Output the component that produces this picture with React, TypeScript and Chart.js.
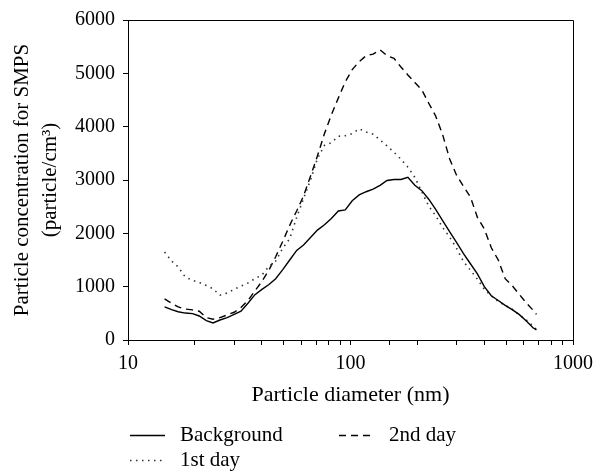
import { useEffect, useRef } from "react";
import { Chart, registerables } from "chart.js";

Chart.register(...registerables);

const FONT = "'Liberation Serif', 'DejaVu Serif', serif";

// Particle diameter (nm)
const diameters = [
  14.6, 15.7, 16.8, 18.1, 19.5, 20.9, 22.5, 24.1, 25.9, 27.9, 30.0, 32.2, 34.6, 37.2,
  40.0, 43.0, 46.1, 49.6, 53.3, 57.3, 61.5, 66.1, 71.0, 76.4, 82.0, 88.2, 94.7, 101.8,
  109.4, 117.6, 126.3, 135.8, 145.9, 156.8, 168.5, 181.1, 194.6, 209.1, 224.7, 241.4,
  259.5, 278.8, 299.6, 322.0, 346.0, 371.8, 399.5, 429.4, 461.4, 495.8, 532.8, 572.5,
  615.3, 661.2, 685.0,
];

// Particle concentration (particle/cm3)
const background = [
  620, 570, 530, 505, 495, 450, 365, 320, 375, 420, 480, 540, 690, 850, 950, 1040, 1150,
  1320, 1500, 1680, 1780, 1920, 2060, 2160, 2280, 2420, 2440, 2610, 2720, 2780, 2830, 2900,
  2990, 3010, 3010, 3050, 2900, 2800, 2640, 2450, 2240, 2030, 1830, 1620, 1430, 1240, 1000,
  830, 740, 650, 570, 480, 360, 230, 190,
];

const firstDay = [
  1650, 1480, 1370, 1180, 1120, 1080, 1020, 960, 840, 880, 950, 1010, 1070, 1150, 1220, 1380,
  1480, 1720, 1900, 2300, 2650, 3000, 3400, 3650, 3700, 3820, 3830, 3870, 3960, 3900, 3860,
  3750, 3640, 3520, 3390, 3240, 3050, 2780, 2510, 2330, 2110, 1930, 1720, 1470, 1310, 1140,
  950, 830, 720, 650, 580, 470, 380, 260, 200,
];

const secondDay = [
  770, 690, 620, 580, 565, 540, 420, 390, 420, 470, 520, 610, 740, 920, 1100, 1310, 1560,
  1850, 2150, 2420, 2700, 3070, 3450, 3870, 4220, 4540, 4840, 5070, 5220, 5330, 5360, 5440,
  5330, 5280, 5120, 4970, 4830, 4690, 4440, 4200, 3850, 3400, 3090, 2880, 2680, 2300, 2080,
  1730, 1500, 1150, 1020, 860, 700, 560, 480,
];

const xTickLabels = [10, 100, 1000];
const seriesNames = ["Background", "1st day", "2nd day"];
const xTitle = "Particle diameter (nm)";
const yTitle = ["Particle concentration for SMPS", "(particle/cm\u00B3)"];

const toPoints = (ys: number[]) => diameters.map((d, i) => ({ x: d, y: ys[i] }));

const boxPlugin = {
  id: "boxFrame",
  afterDraw(chart: any) {
    const { ctx, chartArea } = chart;
    const l = Math.round(chartArea.left) + 0.5;
    const r = Math.round(chartArea.right) + 0.5;
    const t = Math.round(chartArea.top) + 0.5;
    const b = Math.round(chartArea.bottom) + 0.5;
    ctx.save();
    ctx.strokeStyle = "#000";
    ctx.lineWidth = 1;
    ctx.setLineDash([]);
    ctx.beginPath();
    ctx.moveTo(l, t);
    ctx.lineTo(r, t);
    ctx.lineTo(r, b);
    ctx.stroke();
    ctx.restore();
  },
};

const legendPlugin = {
  id: "customLegend",
  afterDraw(chart: any) {
    const { ctx } = chart;
    const items = [
      { ds: 0, x: 130, y: 435 },
      { ds: 2, x: 339, y: 435 },
      { ds: 1, x: 130, y: 460 },
    ];
    ctx.save();
    items.forEach((it) => {
      const ds = chart.data.datasets[it.ds];
      ctx.strokeStyle = ds.borderColor;
      ctx.lineWidth = ds.borderWidth;
      ctx.setLineDash(ds.borderDash || []);
      ctx.beginPath();
      ctx.moveTo(it.x, it.y + 0.5);
      ctx.lineTo(it.x + 35, it.y + 0.5);
      ctx.stroke();
      ctx.setLineDash([]);
      ctx.fillStyle = "#000";
      ctx.font = `21px ${FONT}`;
      ctx.textBaseline = "middle";
      ctx.textAlign = "left";
      ctx.fillText(ds.label, it.x + 50, it.y);
    });
    ctx.restore();
  },
};

export default function App() {
  const ref = useRef<HTMLCanvasElement | null>(null);

  useEffect(() => {
    document.body.style.margin = "0";
    if (!ref.current) return;
    Chart.defaults.font.family = FONT;
    Chart.defaults.color = "#000";
    const chart = new Chart(ref.current, {
      type: "line",
      data: {
        datasets: [
          {
            label: seriesNames[0],
            data: toPoints(background),
            borderColor: "#000",
            borderWidth: 1.4,
            pointRadius: 0,
            tension: 0,
          },
          {
            label: seriesNames[1],
            data: toPoints(firstDay),
            borderColor: "#333",
            borderWidth: 1.6,
            borderDash: [1.5, 4.5],
            pointRadius: 0,
            tension: 0,
          },
          {
            label: seriesNames[2],
            data: toPoints(secondDay),
            borderColor: "#000",
            borderWidth: 1.4,
            borderDash: [7, 5],
            pointRadius: 0,
            tension: 0,
          },
        ],
      },
      options: {
        animation: false,
        responsive: false,
        layout: { padding: { left: 0, right: 22, top: 16, bottom: 58 } },
        plugins: { legend: { display: false }, tooltip: { enabled: false } },
        scales: {
          x: {
            type: "logarithmic",
            min: 10,
            max: 1000,
            afterFit: (s: any) => {
              s.height = 75;
            },
            grid: { drawOnChartArea: false, drawTicks: true, tickLength: 5, color: "#000", lineWidth: 1 },
            border: { display: true, color: "#000", width: 1 },
            ticks: {
              autoSkip: false,
              maxRotation: 0,
              padding: 7,
              color: "#000",
              font: { size: 20 },
              callback: (v: any) => (xTickLabels.includes(Number(v)) ? String(v) : ""),
            },
            title: {
              display: true,
              text: xTitle,
              color: "#000",
              font: { size: 22 },
              padding: { top: 0, bottom: 7 },
            },
          },
          y: {
            type: "linear",
            min: 0,
            max: 6000,
            afterFit: (s: any) => {
              s.width = 128;
            },
            grid: { drawOnChartArea: false, drawTicks: true, tickLength: 5, color: "#000", lineWidth: 1 },
            border: { display: true, color: "#000", width: 1 },
            ticks: {
              stepSize: 1000,
              padding: 8,
              color: "#000",
              font: { size: 20 },
              callback: (v: any) => String(v),
            },
            title: {
              display: true,
              text: yTitle,
              color: "#000",
              font: { size: 21, lineHeight: 1.35 },
              padding: { top: 8, bottom: 0 },
            },
          },
        },
      },
      plugins: [boxPlugin, legendPlugin],
    } as any);
    return () => chart.destroy();
  }, []);

  return (
    <div style={{ width: 600, height: 473 }}>
      <canvas ref={ref} width={600} height={473} style={{ display: "block" }} />
    </div>
  );
}
